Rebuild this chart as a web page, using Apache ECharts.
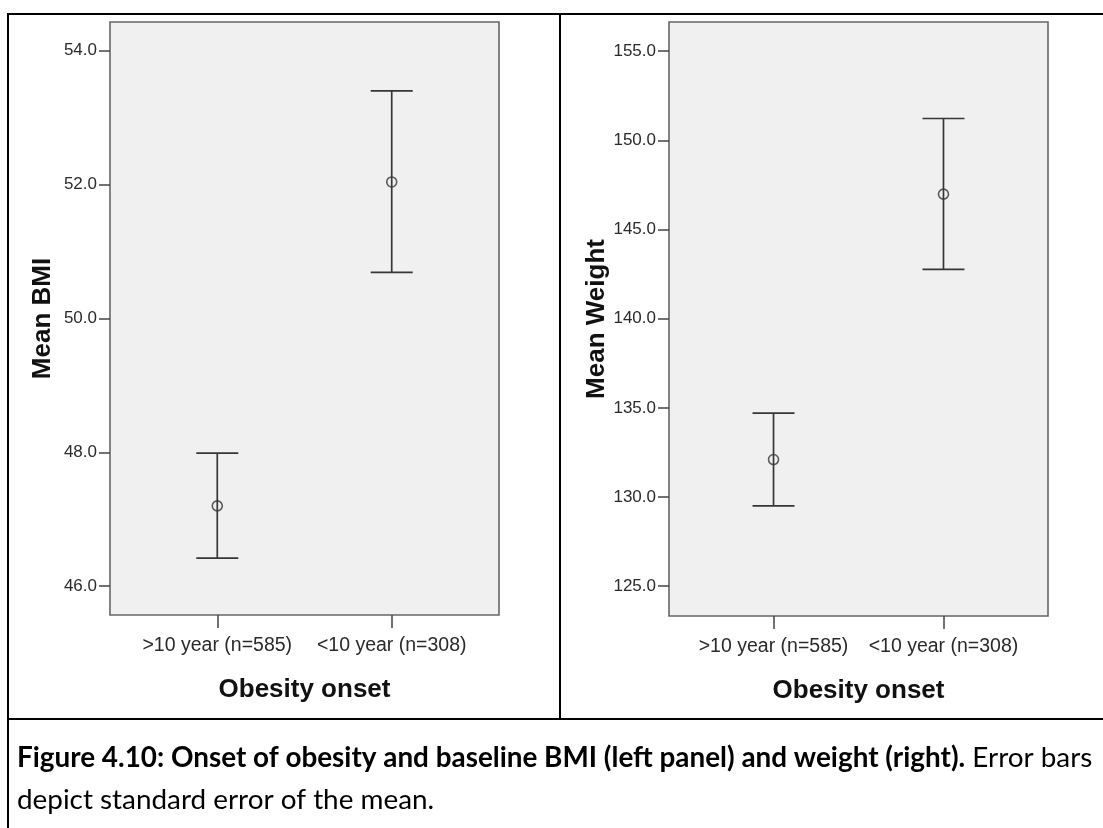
<!DOCTYPE html>
<html>
<head>
<meta charset="utf-8">
<script src="https://cdn.jsdelivr.net/npm/echarts@6/dist/echarts.min.js"></script>
<style>
  html, body { margin: 0; padding: 0; background: #ffffff; }
  #chart { width: 1103px; height: 828px; }
</style>
</head>
<body>
<div id="chart"></div>
<script>
// Groups on the x axis (obesity onset)
const onsetGroups = ['>10 year (n=585)', '<10 year (n=308)'];

// Baseline BMI: mean and +/- 1 SE bounds
const bmiMean  = [47.20, 52.04];
const bmiLower = [46.42, 50.69];
const bmiUpper = [47.99, 53.40];

// Baseline weight: mean and +/- 1 SE bounds
const weightMean  = [132.10, 146.98];
const weightLower = [129.50, 142.76];
const weightUpper = [134.70, 151.22];

// Tick labels
const bmiTicks    = [46, 48, 50, 52, 54];
const weightTicks = [125, 130, 135, 140, 145, 150, 155];

const captionBold = 'Figure 4.10: Onset of obesity and baseline BMI (left panel) and weight (right).';
const captionRest = ' Error bars';
const captionLine2 = 'depict standard error of the mean.';

const INK = '#363636';
const groupIdx = [1, 2];

function errorBarData(lower, upper) {
  return groupIdx.map((x, i) => [x, lower[i], upper[i]]);
}
function meanData(mean) {
  return groupIdx.map((x, i) => [x, mean[i]]);
}

// Whisker: vertical line plus two horizontal caps
function renderErrorBar(params, api) {
  const top = api.coord([api.value(0), api.value(2)]);
  const bot = api.coord([api.value(0), api.value(1)]);
  const half = 21;
  const style = { stroke: INK, lineWidth: 1.7 };
  return {
    type: 'group',
    children: [
      { type: 'line', shape: { x1: top[0], y1: top[1], x2: bot[0], y2: bot[1] }, style },
      { type: 'line', shape: { x1: top[0] - half, y1: top[1], x2: top[0] + half, y2: top[1] }, style },
      { type: 'line', shape: { x1: bot[0] - half, y1: bot[1], x2: bot[0] + half, y2: bot[1] }, style }
    ]
  };
}

const tickFont = { fontFamily: 'Liberation Sans', color: '#2a2a2a' };
const nameFont = { fontFamily: 'Liberation Sans', fontWeight: 'bold', fontSize: 26, color: '#111111' };

function xAxisFor(gridIndex) {
  return {
    type: 'value', gridIndex,
    min: 0.385, max: 2.615,
    name: 'Obesity onset', nameLocation: 'middle', nameGap: 62,
    nameTextStyle: nameFont,
    axisLine: { show: false },
    splitLine: { show: false },
    axisTick: { show: true, customValues: groupIdx, length: 13, lineStyle: { color: '#444', width: 1.5 } },
    axisLabel: {
      customValues: groupIdx, margin: 21, fontSize: 19.5, ...tickFont,
      formatter: v => onsetGroups[Math.round(v) - 1] || ''
    }
  };
}

function yAxisFor(gridIndex, min, max, ticks, name, gap) {
  return {
    type: 'value', gridIndex, min, max,
    name, nameLocation: 'middle', nameGap: gap,
    nameTextStyle: nameFont,
    axisLine: { show: false },
    splitLine: { show: false },
    axisTick: { show: true, customValues: ticks, length: 11, lineStyle: { color: '#444', width: 1.5 } },
    axisLabel: {
      customValues: ticks, margin: 13, fontSize: 17, ...tickFont,
      formatter: v => Number(v).toFixed(1)
    }
  };
}

// Fit the caption line to the panel width
function fitCaptionSize(family, target) {
  const ctx = document.createElement('canvas').getContext('2d');
  const base = 20;
  ctx.font = 'bold ' + base + 'px ' + family;
  let w = ctx.measureText(captionBold).width;
  ctx.font = base + 'px ' + family;
  w += ctx.measureText(captionRest).width;
  return base * target / w;
}
const capFamily = 'Lato';
const capSize = fitCaptionSize(capFamily, 1076);

const frame = { stroke: '#000', lineWidth: 2 };

const option = {
  backgroundColor: '#ffffff',
  animation: false,
  grid: [
    { left: 110, top: 22, width: 389, height: 593, show: true, backgroundColor: '#f0f0f0', borderColor: '#666666', borderWidth: 1.6 },
    { left: 669, top: 22, width: 379, height: 594, show: true, backgroundColor: '#f0f0f0', borderColor: '#666666', borderWidth: 1.6 }
  ],
  xAxis: [xAxisFor(0), xAxisFor(1)],
  yAxis: [
    yAxisFor(0, 45.57, 54.43, bmiTicks, 'Mean BMI', 54),
    yAxisFor(1, 123.33, 156.63, weightTicks, 'Mean Weight', 59)
  ],
  series: [
    { type: 'custom', xAxisIndex: 0, yAxisIndex: 0, renderItem: renderErrorBar, data: errorBarData(bmiLower, bmiUpper), z: 2 },
    { type: 'scatter', xAxisIndex: 0, yAxisIndex: 0, data: meanData(bmiMean), symbol: 'circle', symbolSize: 10,
      itemStyle: { color: 'rgba(0,0,0,0)', borderColor: INK, borderWidth: 1.6 }, z: 3 },
    { type: 'custom', xAxisIndex: 1, yAxisIndex: 1, renderItem: renderErrorBar, data: errorBarData(weightLower, weightUpper), z: 2 },
    { type: 'scatter', xAxisIndex: 1, yAxisIndex: 1, data: meanData(weightMean), symbol: 'circle', symbolSize: 10,
      itemStyle: { color: 'rgba(0,0,0,0)', borderColor: INK, borderWidth: 1.6 }, z: 3 }
  ],
  graphic: [
    { type: 'line', shape: { x1: 8, y1: 14, x2: 1103, y2: 14 }, style: frame, silent: true },
    { type: 'line', shape: { x1: 8, y1: 13, x2: 8, y2: 828 }, style: frame, silent: true },
    { type: 'line', shape: { x1: 560, y1: 14, x2: 560, y2: 719 }, style: frame, silent: true },
    { type: 'line', shape: { x1: 7, y1: 719, x2: 1103, y2: 719 }, style: frame, silent: true },
    {
      type: 'text', x: 17, y: 758, silent: true,
      style: {
        text: '{b|' + captionBold + '}{r|' + captionRest + '}',
        verticalAlign: 'middle',
        rich: {
          b: { fontFamily: capFamily, fontWeight: 'bold', fontSize: capSize, fill: '#000' },
          r: { fontFamily: capFamily, fontSize: capSize, fill: '#000' }
        }
      }
    },
    {
      type: 'text', x: 17, y: 800, silent: true,
      style: { text: captionLine2, verticalAlign: 'middle', fontFamily: capFamily, fontSize: capSize, fill: '#000' }
    }
  ]
};

const chart = echarts.init(document.getElementById('chart'), null, { renderer: 'canvas' });
chart.setOption(option);
</script>
</body>
</html>
